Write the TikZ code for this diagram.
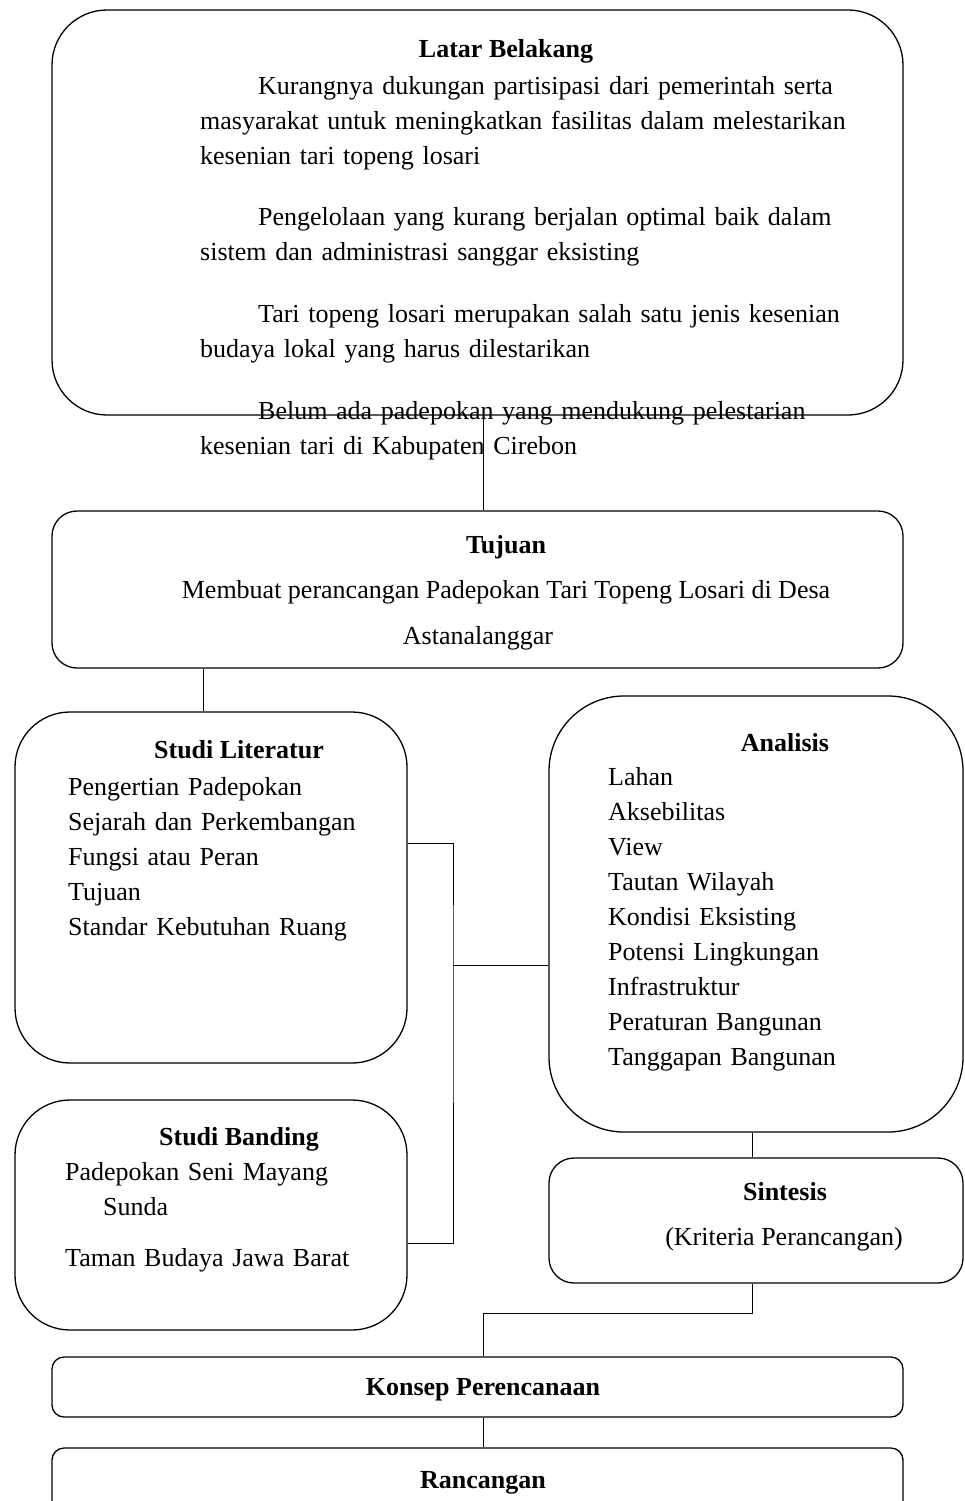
\documentclass[tikz,border=0pt]{standalone}
\usepackage{fontspec}
\setmainfont{Liberation Serif}
\usepackage{tikz}
\usetikzlibrary{positioning,calc}

\begin{document}
\begin{tikzpicture}[
    x=1pt, y=-1pt,
    font=\fontsize{26}{35}\selectfont,
    box/.style={draw, line width=1.3pt, inner sep=0pt},
    title/.style={font=\fontsize{26}{35}\selectfont\bfseries, anchor=base},
    body/.style={anchor=base west, align=left, inner sep=0pt, text width=#1},
    link/.style={line width=1pt}
]
\useasboundingbox (0,0) rectangle (964,1501);

% --- boxes ---
\node[box, minimum width=851pt, minimum height=405pt, rounded corners=55pt] (latar) at (477.5,212.5) {};
\node[box, minimum width=851pt, minimum height=157pt, rounded corners=25pt] (tujuan) at (477.5,589.5) {};
\node[box, minimum width=392pt, minimum height=351pt, rounded corners=55pt] (literatur) at (211,887.5) {};
\node[box, minimum width=392pt, minimum height=230pt, rounded corners=55pt] (banding) at (211,1215) {};
\node[box, minimum width=414pt, minimum height=436pt, rounded corners=75pt] (analisis) at (756,914) {};
\node[box, minimum width=414pt, minimum height=125pt, rounded corners=25pt] (sintesis) at (756,1220.5) {};
\node[box, minimum width=851pt, minimum height=60pt, rounded corners=12pt] (konsep) at (477.5,1387) {};
\node[box, minimum width=851pt, minimum height=110pt, rounded corners=12pt] (rancangan) at (477.5,1503) {};

% --- texts ---
\node[title] (tLatar) at (506,58) {Latar Belakang};
\node[body=720pt] (bLatar) at (200,95) {%
    \hspace*{58pt}Kurangnya dukungan partisipasi dari pemerintah serta\\
    masyarakat untuk meningkatkan fasilitas dalam melestarikan\\
    kesenian tari topeng losari\\[26pt]
    \hspace*{58pt}Pengelolaan yang kurang berjalan optimal baik dalam\\
    sistem dan administrasi sanggar eksisting\\[27pt]
    \hspace*{58pt}Tari topeng losari merupakan salah satu jenis kesenian\\
    budaya lokal yang harus dilestarikan\\[27pt]
    \hspace*{58pt}Belum ada padepokan yang mendukung pelestarian\\
    kesenian tari di Kabupaten Cirebon};

\node[title] (tTujuan) at (506,553) {Tujuan};
\node[anchor=base, align=center, inner sep=0pt] (bTujuan) at (478,644) {%
    \hspace*{56pt}Membuat perancangan Padepokan Tari Topeng Losari di Desa\\[11pt]
    Astanalanggar};

\node[title] (tLiteratur) at (239,758) {Studi Literatur};
\node[body=330pt] (bLiteratur) at (68,795) {%
    Pengertian Padepokan\\
    Sejarah dan Perkembangan\\
    Fungsi atau Peran\\
    Tujuan\\
    Standar Kebutuhan Ruang};

\node[title] (tBanding) at (239,1145) {Studi Banding};
\node[body=330pt] (bBanding) at (65,1180) {%
    Padepokan Seni Mayang\\
    \hspace*{38pt}Sunda\\[16pt]
    Taman Budaya Jawa Barat};

\node[title] (tAnalisis) at (785,751) {Analisis};
\node[body=340pt] (bAnalisis) at (608,785) {%
    Lahan\\
    Aksebilitas\\
    View\\
    Tautan Wilayah\\
    Kondisi Eksisting\\
    Potensi Lingkungan\\
    Infrastruktur\\
    Peraturan Bangunan\\
    Tanggapan Bangunan};

\node[title] (tSintesis) at (785,1200) {Sintesis};
\node[anchor=base, inner sep=0pt] (bSintesis) at (784,1245) {(Kriteria Perancangan)};

\node[title] (tKonsep) at (483,1395) {Konsep Perencanaan};
\node[title] (tRancangan) at (483,1488) {Rancangan};

% --- connectors ---
\coordinate (spine) at ([xshift=5.5pt]latar.south);
\coordinate (drop) at ([xshift=-8pt]literatur.north);
\coordinate (split) at (453,965);
\coordinate (elbow) at (483,1313);

\draw[link] (spine) -- (spine |- tujuan.north);
\draw[link] (drop |- tujuan.south) -- (drop);
\draw[link] ([yshift=44.5pt]literatur.east) -| (split) |- ([yshift=-28pt]banding.east);
\draw[link] (split) -- (split -| analisis.west);
\draw[link] ([xshift=-4pt]analisis.south) -- ([xshift=-4pt]sintesis.north);
\draw[link] ([xshift=-4pt]sintesis.south) |- (elbow) -- (elbow |- konsep.north);
\draw[link] (elbow |- konsep.south) -- (elbow |- rancangan.north);

\end{tikzpicture}
\end{document}
